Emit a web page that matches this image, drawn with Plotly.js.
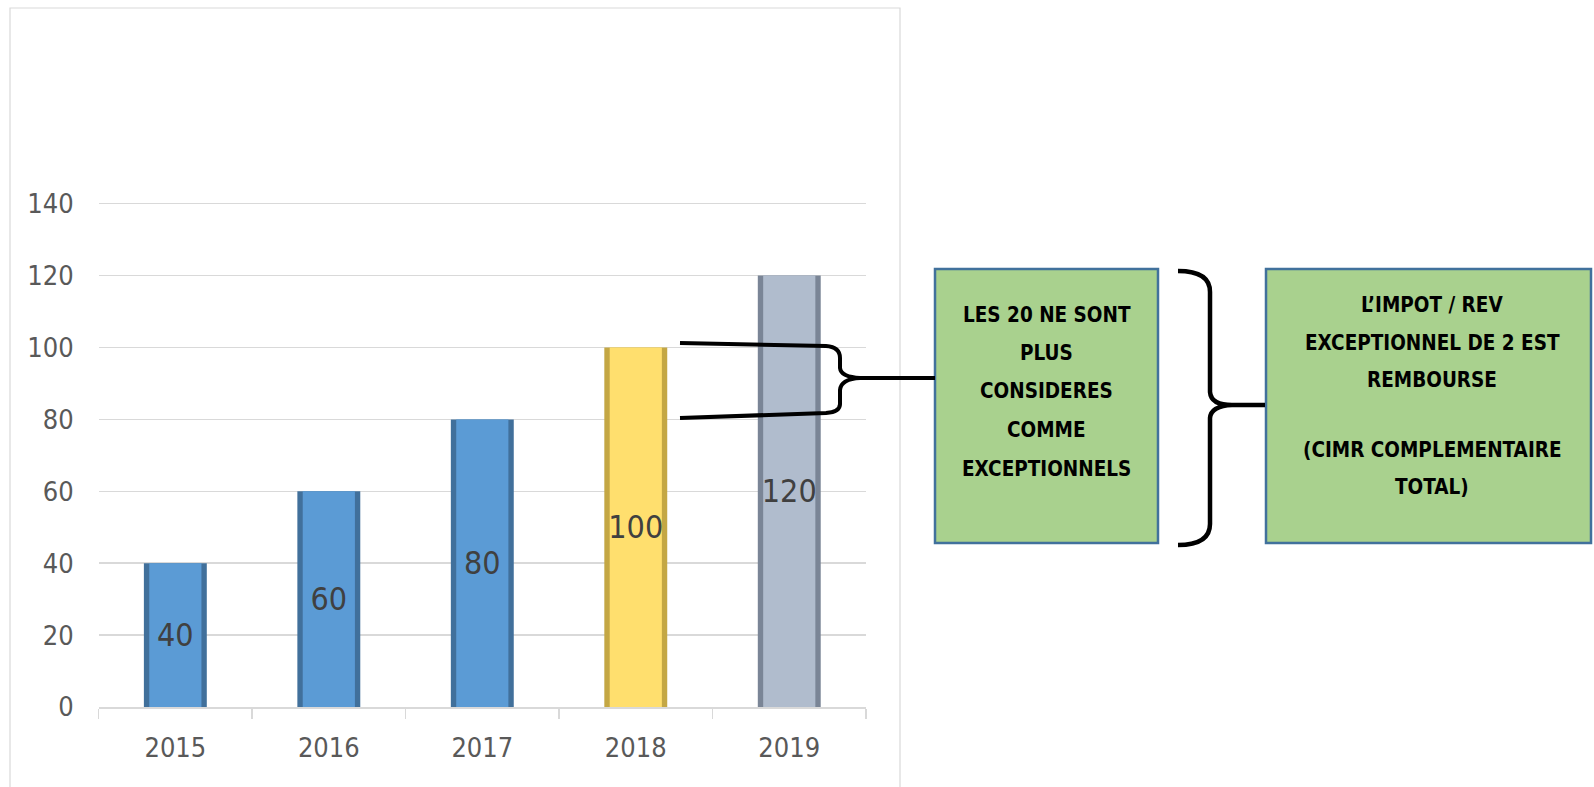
<!DOCTYPE html>
<html><head><meta charset="utf-8">
<script src="https://cdn.plot.ly/plotly-3.0.1.min.js"></script>
<style>html,body{margin:0;padding:0;background:#fff;}#chart{width:1594px;height:787px;}</style>
</head><body><div id="chart"></div>
<script>
const years = ['2015','2016','2017','2018','2019'];
const values = [40, 60, 80, 100, 120];
const yTicks = [0, 20, 40, 60, 80, 100, 120, 140];
const faceColors = ['#5B9BD5','#5B9BD5','#5B9BD5','#FFDF6E','#B0BCCD'];
const edgeColors = ['#41709B','#41709B','#41709B','#C4A744','#7A8596'];
const box1Lines = ['LES 20 NE SONT','PLUS','CONSIDERES','COMME','EXCEPTIONNELS'];
const box2Lines = ['L\u2019IMPOT / REV','EXCEPTIONNEL DE 2 EST','REMBOURSE','(CIMR COMPLEMENTAIRE','TOTAL)'];

const W = 1594, H = 787;
const px = x => x / W, py = y => 1 - y / H;
const P = (x, y) => px(x).toFixed(5) + ',' + py(y).toFixed(5);
const FONT = '"Liberation Sans Narrow", "Arial Narrow", "DejaVu Sans Condensed", "Liberation Sans", sans-serif';

const edge = {
  type: 'bar', x: years, y: values, width: 0.41,
  marker: {color: edgeColors, line: {width: 0}},
  hoverinfo: 'skip'
};
const face = {
  type: 'bar', x: years, y: values, width: 0.34,
  marker: {color: faceColors, line: {width: 0}},
  text: values.map(String), textposition: 'inside', insidetextanchor: 'middle',
  textangle: 0, constraintext: 'none',
  textfont: {family: FONT, size: 32, color: '#404040'},
  hoverinfo: 'skip'
};

const shapes = [
  {type: 'rect', xref: 'paper', yref: 'paper', x0: px(10), x1: px(900), y0: py(8), y1: py(800),
   line: {color: '#D9D9D9', width: 1.2}, fillcolor: 'rgba(0,0,0,0)', layer: 'below'},
  {type: 'rect', xref: 'paper', yref: 'paper', x0: px(935), x1: px(1158), y0: py(269), y1: py(543),
   line: {color: '#41719C', width: 2.5}, fillcolor: '#A9D18E'},
  {type: 'rect', xref: 'paper', yref: 'paper', x0: px(1266), x1: px(1591), y0: py(269), y1: py(543),
   line: {color: '#41719C', width: 2.5}, fillcolor: '#A9D18E'},
  {type: 'path', xref: 'paper', yref: 'paper', line: {color: '#000', width: 4},
   path: 'M' + P(680,343) + ' L' + P(826,346) + ' Q' + P(840,347) + ' ' + P(840,358) +
         ' L' + P(840,368) + ' Q' + P(841,377) + ' ' + P(860,378) + ' L' + P(935,378) +
         ' M' + P(860,378) + ' Q' + P(841,379) + ' ' + P(840,390) +
         ' L' + P(840,404) + ' Q' + P(840,412) + ' ' + P(826,413) + ' L' + P(680,418)},
  {type: 'path', xref: 'paper', yref: 'paper', line: {color: '#000', width: 4.5},
   path: 'M' + P(1178,271) + ' Q' + P(1210,271) + ' ' + P(1210,292) +
         ' L' + P(1210,392) + ' Q' + P(1211,405) + ' ' + P(1232,405) + ' L' + P(1265,405) +
         ' M' + P(1232,405) + ' Q' + P(1211,406) + ' ' + P(1210,418) +
         ' L' + P(1210,524) + ' Q' + P(1210,545) + ' ' + P(1178,545)}
];

const box1Y = [315, 353, 391.5, 430, 468.5];
const box2Y = [305, 343, 380, 450, 487];
const annotations = [];
box1Lines.forEach((t, i) => annotations.push({xref: 'paper', yref: 'paper', x: px(1046.5), y: py(box1Y[i]),
  xanchor: 'center', yanchor: 'middle', showarrow: false, text: '<b>' + t + '</b>',
  font: {family: FONT, size: 20.5, color: '#000'}}));
box2Lines.forEach((t, i) => annotations.push({xref: 'paper', yref: 'paper', x: px(1432), y: py(box2Y[i]),
  xanchor: 'center', yanchor: 'middle', showarrow: false, text: '<b>' + t + '</b>',
  font: {family: FONT, size: 20.5, color: '#000'}}));

const yTop = 142;
const layout = {
  width: W, height: H, margin: {l: 0, r: 0, t: 0, b: 0},
  paper_bgcolor: '#fff', plot_bgcolor: 'rgba(0,0,0,0)',
  showlegend: false, barmode: 'overlay',
  font: {family: FONT, color: '#595959'},
  xaxis: {type: 'category', domain: [px(98.6), px(866)], range: [-0.5, 4.5],
    showgrid: false, zeroline: false, showline: true, linecolor: '#D9D9D9', linewidth: 1.5,
    ticks: 'outside', tickson: 'boundaries', ticklen: 10, tickcolor: '#D9D9D9', tickwidth: 1.5,
    ticklabelstandoff: 16, tickfont: {family: FONT, size: 27, color: '#595959'}, fixedrange: true},
  yaxis: {domain: [py(707), py(707 - yTop * 3.595)], range: [0, yTop], tickvals: yTicks, ticktext: yTicks.map(String),
    showgrid: true, gridcolor: '#D9D9D9', gridwidth: 1.5, zeroline: false, showline: false,
    ticks: '', ticklabelstandoff: 24, tickfont: {family: FONT, size: 27, color: '#595959'}, fixedrange: true},
  shapes: shapes, annotations: annotations
};

Plotly.newPlot('chart', [edge, face], layout, {staticPlot: true, displayModeBar: false});
</script></body></html>
